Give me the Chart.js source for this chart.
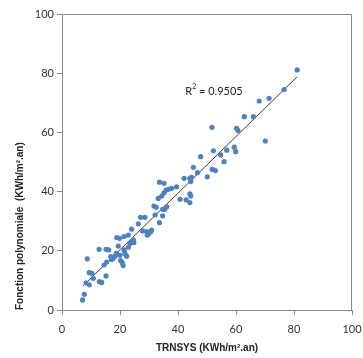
<!DOCTYPE html>
<html>
<head>
<meta charset="utf-8">
<script src="https://cdn.jsdelivr.net/npm/chart.js@4"></script>
<style>
  html, body { margin: 0; padding: 0; background: #fff; }
  #wrap { width: 363px; height: 358px; }
</style>
</head>
<body>
<div id="wrap"><canvas id="chart"></canvas></div>
<script>
// TRNSYS vs polynomial fit
var trnsys = [7.1, 7.7, 8.7, 8.3, 9.4, 9.4, 10.3, 10.8, 12.9, 13.7, 12.8, 15.2, 14.5, 15.4, 15.2, 16.1, 16.8, 17.1, 17.6, 18.3,
    18.8, 19.4, 20.0, 20.2, 20.8, 21.1, 21.4, 21.7, 22.3, 22.9, 23.4, 24.0, 24.6, 24.8,
    18.9, 19.8, 21.4, 22.9, 24.0, 26.3, 27.1, 28.6, 27.8, 29.2, 29.8, 30.6, 30.9, 29.4, 32.1, 33.6, 34.7, 31.7, 32.5, 33.2,
    34.4, 35.2, 35.9, 36.7, 37.8, 39.5, 33.6, 35.2, 34.7, 35.4, 36.1, 40.7, 42.8, 44.1, 44.4, 44.1, 42.1, 44.1, 44.4, 44.7,
    45.3, 46.7, 47.8, 50.1, 51.7, 52.2, 51.8, 52.9, 54.7, 55.9, 56.8, 59.4, 59.9, 60.2, 60.7, 70.1, 62.9, 66.0, 68.0, 71.4,
    76.6, 81.1];
var polynome = [3.4, 5.3, 17.3, 9.2, 8.5, 12.6, 12.4, 10.7, 9.6, 9.3, 20.5, 11.5, 15.2, 16.2, 20.5, 20.3, 18.0, 17.1, 17.4, 18.2,
    19.1, 21.6, 18.5, 16.7, 16.0, 15.0, 20.3, 19.1, 18.2, 21.2, 22.5, 23.1, 23.7, 22.8,
    24.5, 24.2, 24.8, 25.3, 27.3, 29.1, 31.3, 31.3, 26.7, 26.5, 25.7, 26.4, 27.0, 25.3, 32.1, 29.5, 31.8, 35.1, 34.7, 37.7,
    38.5, 39.6, 40.5, 40.8, 41.1, 41.6, 43.2, 42.8, 34.0, 34.0, 34.9, 37.4, 37.2, 36.3, 38.5, 39.2, 44.5, 44.5, 43.4, 44.8,
    48.2, 46.4, 51.8, 45.0, 61.7, 53.8, 47.5, 47.1, 52.4, 50.1, 54.0, 55.0, 53.5, 61.4, 60.6, 57.1, 65.3, 65.3, 70.6, 71.5,
    74.5, 81.1];
var trendX = [7.2, 81];
var trendY = [8.1, 78.7];
var r2Text = '0.9505';
var tickVals = [0, 20, 40, 60, 80, 100];

function pts(xs, ys) {
    return xs.map(function (x, i) { return { x: x, y: ys[i] }; });
}

var frame = {
    id: 'frame',
    afterDraw: function (chart) {
        var a = chart.chartArea, ctx = chart.ctx;
        ctx.save();
        ctx.strokeStyle = '#868686';
        ctx.lineWidth = 1;
        ctx.beginPath();
        ctx.moveTo(a.left, a.top + 0.5);
        ctx.lineTo(a.right - 0.5, a.top + 0.5);
        ctx.lineTo(a.right - 0.5, a.bottom);
        ctx.stroke();
        // R² label
        var xs = chart.scales.x, ys = chart.scales.y;
        var px = xs.getPixelForValue(42.5), py = ys.getPixelForValue(74);
        ctx.fillStyle = '#222';
        ctx.textBaseline = 'middle';
        ctx.font = '11px Lato, "Liberation Sans", sans-serif';
        ctx.fillText('R', px, py);
        var w = ctx.measureText('R').width;
        ctx.font = '7px Lato, "Liberation Sans", sans-serif';
        ctx.fillText('2', px + w, py - 4);
        var w2 = ctx.measureText('2').width;
        ctx.font = '11px Lato, "Liberation Sans", sans-serif';
        ctx.fillText(' = ' + r2Text, px + w + w2, py);
        ctx.restore();
    }
};

document.addEventListener('DOMContentLoaded', function () {
    var tickFont = { family: 'Lato, "Liberation Sans", sans-serif', size: 11 };
    var titleFont = { family: '"Liberation Sans", Arial, sans-serif', size: 10, weight: 'bold' };
    new Chart(document.getElementById('chart'), {
        type: 'scatter',
        data: {
            datasets: [
                {
                    data: pts(trnsys, polynome),
                    backgroundColor: '#4F81BD',
                    borderColor: '#4F81BD',
                    pointRadius: 2.6,
                    pointBorderWidth: 0
                },
                {
                    type: 'line',
                    data: pts(trendX, trendY),
                    borderColor: '#3a3a3a',
                    borderWidth: 1,
                    pointRadius: 0,
                    fill: false
                }
            ]
        },
        options: {
            responsive: true,
            maintainAspectRatio: false,
            animation: false,
            layout: { padding: { top: 14, right: 11, left: 0, bottom: 0 } },
            plugins: { legend: { display: false }, tooltip: { enabled: false } },
            scales: {
                x: {
                    type: 'linear', min: 0, max: 100,
                    afterBuildTicks: function (s) { s.ticks = tickVals.map(function (v) { return { value: v }; }); },
                    afterFit: function (s) { s.height = 48; s.paddingRight = 0; s.paddingLeft = 0; },
                    grid: { drawOnChartArea: false, drawTicks: true, tickLength: 5, color: '#868686' },
                    border: { color: '#868686' },
                    ticks: { color: '#333', font: tickFont, padding: 8, maxRotation: 0 },
                    title: { display: true, text: 'TRNSYS (KWh/m².an)', color: '#222', font: titleFont, padding: { top: 0 } }
                },
                y: {
                    type: 'linear', min: 0, max: 100,
                    afterBuildTicks: function (s) { s.ticks = tickVals.map(function (v) { return { value: v }; }); },
                    afterFit: function (s) { s.width = 62; s.paddingTop = 0; s.paddingBottom = 0; },
                    grid: { drawOnChartArea: false, drawTicks: true, tickLength: 5, color: '#868686' },
                    border: { color: '#868686' },
                    ticks: { color: '#333', font: tickFont, padding: 3 },
                    title: { display: true, text: 'Fonction polynomiale  (KWh/m².an)', color: '#222', font: titleFont, align: 'start', padding: { bottom: 0, top: 14 } }
                }
            }
        },
        plugins: [frame]
    });
});
</script>
</body>
</html>
